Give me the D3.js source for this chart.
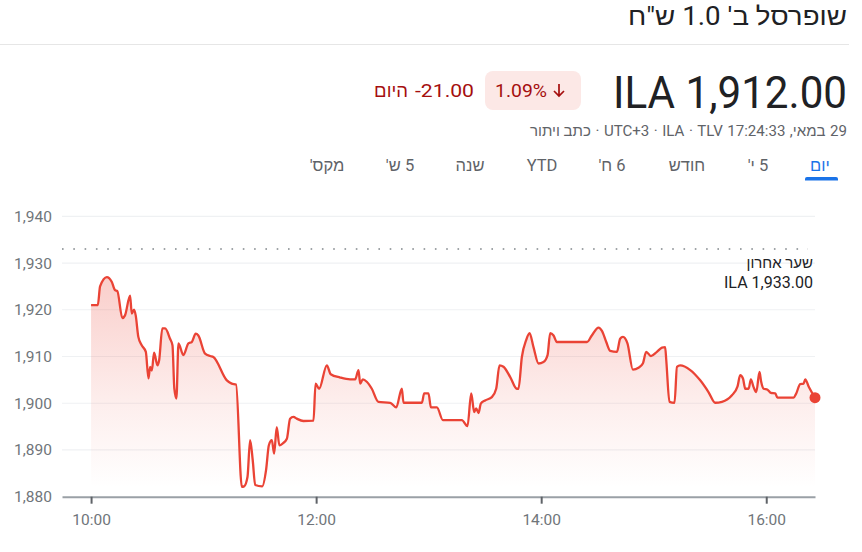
<!DOCTYPE html>
<html><head><meta charset="utf-8">
<script src="https://cdn.jsdelivr.net/npm/d3@7"></script>
<style>
html,body{margin:0;padding:0;background:#fff;}
svg{display:block;font-family:Roboto,'Liberation Sans',Arial,sans-serif;}
</style></head><body>
<svg id="c" width="862" height="552"></svg>
<script>
// ---- data (minutes after the 10:00 open, price in ILA) ----
const minutesAfterOpen = [
  0, 3.6, 4.8, 8.4, 11, 12.8, 14, 16.7, 18.1, 20.8,
  21.7, 22.9, 23.8, 25.2, 27, 29.2, 30.6, 31.5, 32.4, 33.6,
  35.4, 36.3, 38, 39.5, 42.1, 43.4, 44.4, 45.5, 46.6, 49.2,
  51.9, 53.7, 55.8, 57.2, 60.8, 63.5, 65.2, 72.4, 75, 77.3,
  80.4, 81.6, 83.4, 84.8, 86.2, 87.5, 91.2, 93.3, 94.8, 96.4,
  97.6, 99, 100.4, 102.2, 104.4, 106.1, 107.9, 109.7, 113.2, 118.6,
  119.7, 121.6, 125.7, 127.8, 132.8, 138.1, 140.8, 142.6, 143.5, 144.9,
  147, 149.7, 153.2, 159.5, 162.7, 165.7, 166.6, 176.4, 177.6, 179.9,
  181.2, 184.4, 187.6, 197.7, 200.7, 202.7, 204.3, 205.3, 206.6, 207.8,
  210.1, 213.7, 216, 217.8, 219.9, 223.5, 227, 227.9, 229.7, 232,
  233.8, 235.9, 238.6, 241.2, 243.4, 244.8, 246.6, 248.4, 264.4, 267,
  270.6, 272.4, 274.7, 276.8, 280.4, 282.1, 283.6, 286, 288.9, 291.9,
  294.2, 296, 298.5, 301.7, 304.4, 306.1, 306.7, 308.4, 311.1, 312.4,
  314.1, 319.5, 324.8, 329.2, 332.8, 336.4, 341.7, 344.7, 346.1, 347.6,
  348.8, 350.6, 351.8, 353.2, 354.7, 356.4, 357.3, 358.6, 360.7, 362.5,
  364.8, 366, 374.6, 376, 378.1, 379.9, 380.8, 382.6, 386
];
const prices = [
  1921, 1921, 1925, 1927, 1926, 1924.2, 1924, 1918.2, 1918.8, 1923,
  1919.2, 1920, 1918.8, 1914.2, 1912.4, 1911, 1905.3, 1907.8, 1907, 1910.8,
  1908.1, 1909.2, 1916, 1916, 1913.8, 1912.4, 1903.1, 1901, 1912.8, 1910.3,
  1912.8, 1913.1, 1914.9, 1914.5, 1910.6, 1910.1, 1909.9, 1904.9, 1904.2, 1904,
  1882.1, 1882.2, 1884.2, 1892.1, 1887.8, 1882.5, 1882.2, 1885.7, 1891, 1892.1,
  1889.2, 1894.9, 1891, 1891.4, 1892.4, 1896.7, 1897.1, 1896.7, 1896.2, 1896.3,
  1904.2, 1903.1, 1908.1, 1906.2, 1905.5, 1905.1, 1905.1, 1907.1, 1904.2, 1905.1,
  1904.6, 1903.1, 1900.3, 1900.1, 1899.1, 1903.1, 1900.1, 1900.1, 1902.1, 1902.1,
  1899.1, 1899.1, 1896.4, 1896.4, 1895.1, 1902.1, 1898.1, 1898.9, 1897.9, 1899.9,
  1900.6, 1901.3, 1903.1, 1908.1, 1907.8, 1905.6, 1903.1, 1903.1, 1909.9, 1913.5,
  1915, 1912, 1908.5, 1908.8, 1910.3, 1915, 1914.5, 1913.1, 1913.1, 1914.5,
  1916.2, 1915.5, 1913.1, 1911.2, 1911, 1913.8, 1914.2, 1912.8, 1907.2, 1907.6,
  1908.5, 1911, 1910.1, 1911, 1911.9, 1912, 1909.2, 1900.3, 1900.1, 1907.8,
  1908.1, 1907.1, 1904.9, 1902.4, 1900.1, 1900.3, 1901.7, 1903.6, 1906, 1905.3,
  1903.1, 1903.1, 1905.1, 1903.5, 1902.4, 1906.7, 1904.6, 1903.1, 1902.9, 1902.2,
  1902.1, 1901.2, 1901.2, 1902.1, 1904.1, 1904.2, 1905.1, 1903.6, 1901.2
];
const yTickValues = [1880, 1890, 1900, 1910, 1920, 1930, 1940];
const xTickHours = [10, 12, 14, 16];
const previousClose = 1933;
const titleText = "שופרסל ב' 1.0 ש\"ח";
const priceText = "ILA 1,912.00";
const changePct = "1.09%";
const changeAbs = "-21.00";
const todayLabel = "היום";
const dateParts = ["כתב ויתור", "·", "UTC+3", "·", "ILA", "·", "TLV", "17:24:33", ",", "במאי", "29"];
const tabLabels = ["יום", "5 י'", "חודש", "6 ח'", "YTD", "שנה", "5 ש'", "מקס'"];
const prevCloseLabel = "שער אחרון";
const prevCloseValue = "ILA 1,933.00";

// ---- setup ----
const svg = d3.select("#c");
const open = new Date(2024, 4, 29, 10, 0, 0);
const t = m => new Date(open.getTime() + m * 60000);
const data = minutesAfterOpen.map((m, i) => ({ time: t(m), price: prices[i] }));

const x = d3.scaleTime().domain([t(-15.5), t(386)]).range([62, 815]);
const y = d3.scaleLinear().domain([1880, 1940]).range([496.7, 216.3]);

const RED = "#ea4335", DARKRED = "#a50e0e", GRAY = "#5f6368";

// ---- header ----
svg.append("text").attr("x", 847).attr("y", 25).attr("text-anchor", "end")
  .attr("font-size", 25).attr("fill", "#202124").attr("textLength", 219)
  .attr("lengthAdjust", "spacingAndGlyphs").text(titleText);
svg.append("rect").attr("x", 0).attr("y", 44).attr("width", 849).attr("height", 1).attr("fill", "#e6e6e6");

svg.append("text").attr("x", 847).attr("y", 108).attr("text-anchor", "end")
  .attr("font-size", 45).attr("fill", "#202124").attr("textLength", 234)
  .attr("lengthAdjust", "spacingAndGlyphs").text(priceText);

svg.append("rect").attr("x", 485).attr("y", 71).attr("width", 96).attr("height", 39).attr("rx", 8).attr("fill", "#fce8e6");
svg.append("text").attr("x", 495).attr("y", 97).attr("font-size", 18.5)
  .attr("fill", DARKRED).attr("textLength", 52).attr("lengthAdjust", "spacingAndGlyphs").text(changePct);
svg.append("path").attr("d", "M559,84V96M554,91L559,96L564,91").attr("fill", "none")
  .attr("stroke", DARKRED).attr("stroke-width", 1.7);

svg.append("text").attr("x", 474).attr("y", 97).attr("text-anchor", "end").attr("font-size", 18.5)
  .attr("fill", DARKRED).attr("textLength", 59).attr("lengthAdjust", "spacingAndGlyphs").text(changeAbs);
svg.append("text").attr("x", 408).attr("y", 97).attr("text-anchor", "end").attr("font-size", 18.5)
  .attr("fill", DARKRED).text(todayLabel);

// date line, laid out piece by piece (visual left to right), right-aligned at 847
(function () {
  const g = svg.append("g");
  const fs = 15;
  const gapAfter = [4.5, 4.5, 4.5, 4.5, 4.5, 4.5, 4.5, 4.5, 0, 4.5, 0];
  const nodes = dateParts.map(s => g.append("text").attr("y", 136).attr("font-size", fs).attr("fill", GRAY).text(s));
  const widths = nodes.map(n => n.node().getComputedTextLength());
  let total = widths.reduce((a, b) => a + b, 0) + gapAfter.slice(0, -1).reduce((a, b) => a + b, 0);
  const target = 317, k = target / total;
  let cx = 847 - target;
  nodes.forEach((n, i) => {
    n.attr("x", cx).attr("textLength", widths[i] * k).attr("lengthAdjust", "spacingAndGlyphs");
    cx += (widths[i] + gapAfter[i]) * k;
  });
})();

// tabs
const tabCenters = [820, 758, 687, 612, 542, 470, 400, 327];
tabLabels.forEach((s, i) => {
  svg.append("text").attr("x", tabCenters[i]).attr("y", 171).attr("text-anchor", "middle")
    .attr("direction", "rtl").style("direction", "rtl").style("unicode-bidi", "embed")
    .attr("font-size", 16.5)
    .attr("fill", i === 0 ? "#1a73e8" : GRAY).text(s);
});
svg.append("path").attr("d", "M805,180.5V179a2,2 0 0 1 2,-2H836a2,2 0 0 1 2,2V180.5Z").attr("fill", "#1a73e8");

// ---- chart ----
// gridlines
svg.append("g").selectAll("line").data(yTickValues.filter(v => v !== 1880)).join("line")
  .attr("x1", 62).attr("x2", 815).attr("y1", d => y(d)).attr("y2", d => y(d))
  .attr("stroke", "#eff1f3").attr("stroke-width", 1.2);

// gradient
const defs = svg.append("defs");
const grad = defs.append("linearGradient").attr("id", "grad").attr("gradientUnits", "userSpaceOnUse")
  .attr("x1", 0).attr("x2", 0).attr("y1", y(1927)).attr("y2", y(1882));
grad.append("stop").attr("offset", 0).attr("stop-color", RED).attr("stop-opacity", 0.26);
grad.append("stop").attr("offset", 0.6).attr("stop-color", RED).attr("stop-opacity", 0.09);
grad.append("stop").attr("offset", 1).attr("stop-color", RED).attr("stop-opacity", 0.0);

const curve = d3.curveMonotoneX;
svg.append("path").datum(data)
  .attr("d", d3.area().x(d => x(d.time)).y0(y(1880)).y1(d => y(d.price)).curve(curve))
  .attr("fill", "url(#grad)");

// previous close dotted line
svg.append("line").attr("x1", 62).attr("x2", 808).attr("y1", y(previousClose)).attr("y2", y(previousClose))
  .attr("stroke", "#80868b").attr("stroke-width", 1.6).attr("stroke-dasharray", "1.6 9.7");
svg.append("text").attr("x", 813).attr("y", 268).attr("text-anchor", "end").attr("font-size", 15)
  .attr("fill", "#202124").text(prevCloseLabel);
svg.append("text").attr("x", 813).attr("y", 288).attr("text-anchor", "end").attr("font-size", 16)
  .attr("fill", "#202124").attr("textLength", 89).attr("lengthAdjust", "spacingAndGlyphs").text(prevCloseValue);

// line
svg.append("path").datum(data)
  .attr("d", d3.line().x(d => x(d.time)).y(d => y(d.price)).curve(curve))
  .attr("fill", "none").attr("stroke", RED).attr("stroke-width", 2.3).attr("stroke-linejoin", "round");

// end dot
const last = data[data.length - 1];
svg.append("circle").attr("cx", x(last.time)).attr("cy", y(last.price)).attr("r", 5.5).attr("fill", RED);

// y axis
const yAxis = svg.append("g").attr("transform", "translate(62,0)")
  .call(d3.axisLeft(y).tickValues(yTickValues).tickFormat(d3.format(",")).tickSize(0).tickPadding(10));
yAxis.select(".domain").remove();
yAxis.selectAll("text").attr("font-size", 15.5).attr("font-family", "Roboto").attr("fill", "#70757a");

// x axis
const xAxis = svg.append("g").attr("transform", `translate(0,${y(1880)})`)
  .call(d3.axisBottom(x).tickValues(xTickHours.map(h => new Date(2024, 4, 29, h, 0)))
    .tickFormat(d3.timeFormat("%H:%M")).tickSizeInner(7).tickSizeOuter(0).tickPadding(10));
xAxis.select(".domain").attr("stroke", "#9aa0a6").attr("stroke-width", 2);
xAxis.selectAll(".tick line").attr("stroke", GRAY).attr("stroke-width", 2);
xAxis.selectAll("text").attr("font-size", 15.5).attr("font-family", "Roboto").attr("fill", "#70757a");
</script>
</body></html>
